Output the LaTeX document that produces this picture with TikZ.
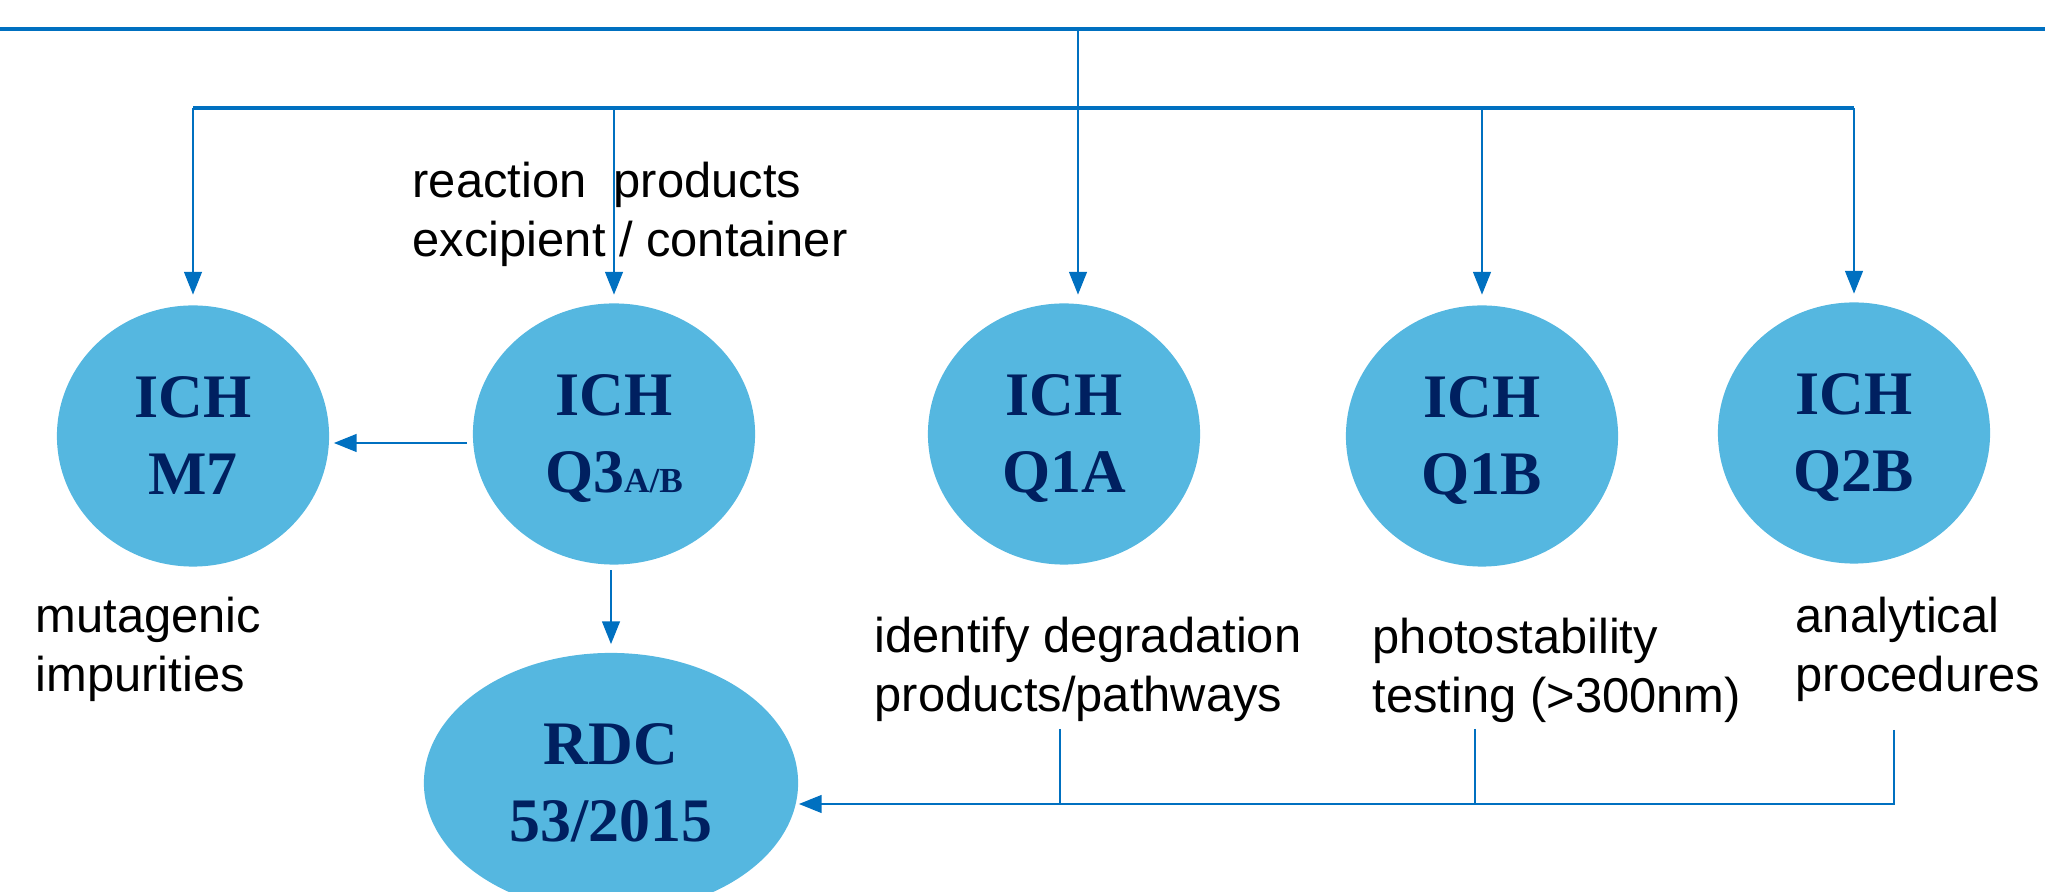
\documentclass[tikz,border=0pt]{standalone}
\usepackage{fontspec}
\setmainfont{Liberation Sans}
\newfontfamily\ichfont{Liberation Serif}
\usetikzlibrary{shapes.geometric,arrows.meta}
\definecolor{ichfill}{RGB}{85,183,224}
\definecolor{ichline}{RGB}{0,112,192}
\definecolor{ichtext}{RGB}{0,32,96}

\begin{document}
\begin{tikzpicture}[x=0.01cm,y=-0.01cm]
\tikzstyle{every node}+=[inner sep=0pt]
\tikzstyle{ich}=[ellipse,fill=ichfill,text=ichtext,align=center,minimum width=2.72cm,minimum height=2.61cm,text depth=0pt,font=\ichfont\bfseries\fontsize{17.6}{21.9}\selectfont]
\tikzstyle{note}=[anchor=base west,align=left,font=\fontsize{13.9}{16.8}\selectfont]
\tikzstyle{bus}=[ichline,line width=1.3pt]
\tikzstyle{link}=[ichline,line width=0.75pt]
\tikzstyle{arr}=[link,-{Triangle[length=6.5pt,width=5pt]}]
\clip (0,0) rectangle (2045,892);
\node[ich] (m7) at (193,436) {ICH\\M7};
\node[ich,minimum width=2.82cm] (q3) at (614,434) {ICH\\Q3{\fontsize{10}{10}\selectfont A/B}};
\node[ich] (q1a) at (1064,434) {ICH\\Q1A};
\node[ich] (q1b) at (1482,436) {ICH\\Q1B};
\node[ich] (q2b) at (1854,433) {ICH\\Q2B};
\node[ich,minimum width=3.74cm,minimum height=2.6cm] (rdc) at (611,783) {RDC\\53/2015};
\node[note] (rxn) at (412,257) {reaction\ \ products\\excipient / container};
\node[note] (muta) at (35,692) {mutagenic\\impurities};
\node[note] (degr) at (874,712) {identify degradation\\products/pathways};
\node[note] (photo) at (1372,713) {photostability\\testing (>300nm)};
\node[note] (proc) at (1795,692) {analytical\\procedures};
\coordinate (tl) at (0,29);
\coordinate (tr) at (2045,29);
\coordinate (hub) at (1078,29);
\coordinate (split) at (1078,108);
\coordinate (side) at (0,443);
\coordinate (bus) at (0,804);
\coordinate (s1) at (1060,729);
\coordinate (s2) at (1475,729);
\coordinate (s3) at (1894,730);
\draw[bus] (tl) -- (tr);
\draw[link] (hub) -- (split);
\draw[bus] (m7 |- split) -- (q2b |- split);
\draw[arr,shorten >=0.1cm] (m7 |- split) -- (m7.north);
\draw[arr,shorten >=0.08cm] (q3 |- split) -- (q3.north);
\draw[arr,shorten >=0.08cm] (split) -- (split |- q1a.north);
\draw[arr,shorten >=0.1cm] (q1b |- split) -- (q1b.north);
\draw[arr,shorten >=0.08cm] (q2b |- split) -- (q2b.north);
\draw[arr,shorten <=0.05cm,shorten >=0.04cm] (q3.west |- side) -- (m7.east |- side);
\draw[arr,shorten <=0.05cm,shorten >=0.08cm] (rdc.north |- q3.south) -- (rdc.north);
\draw[link] (s1) -- (s1 |- bus);
\draw[link] (s2) -- (s2 |- bus);
\draw[arr] (s3) |- (rdc.east |- bus);
\end{tikzpicture}
\end{document}
